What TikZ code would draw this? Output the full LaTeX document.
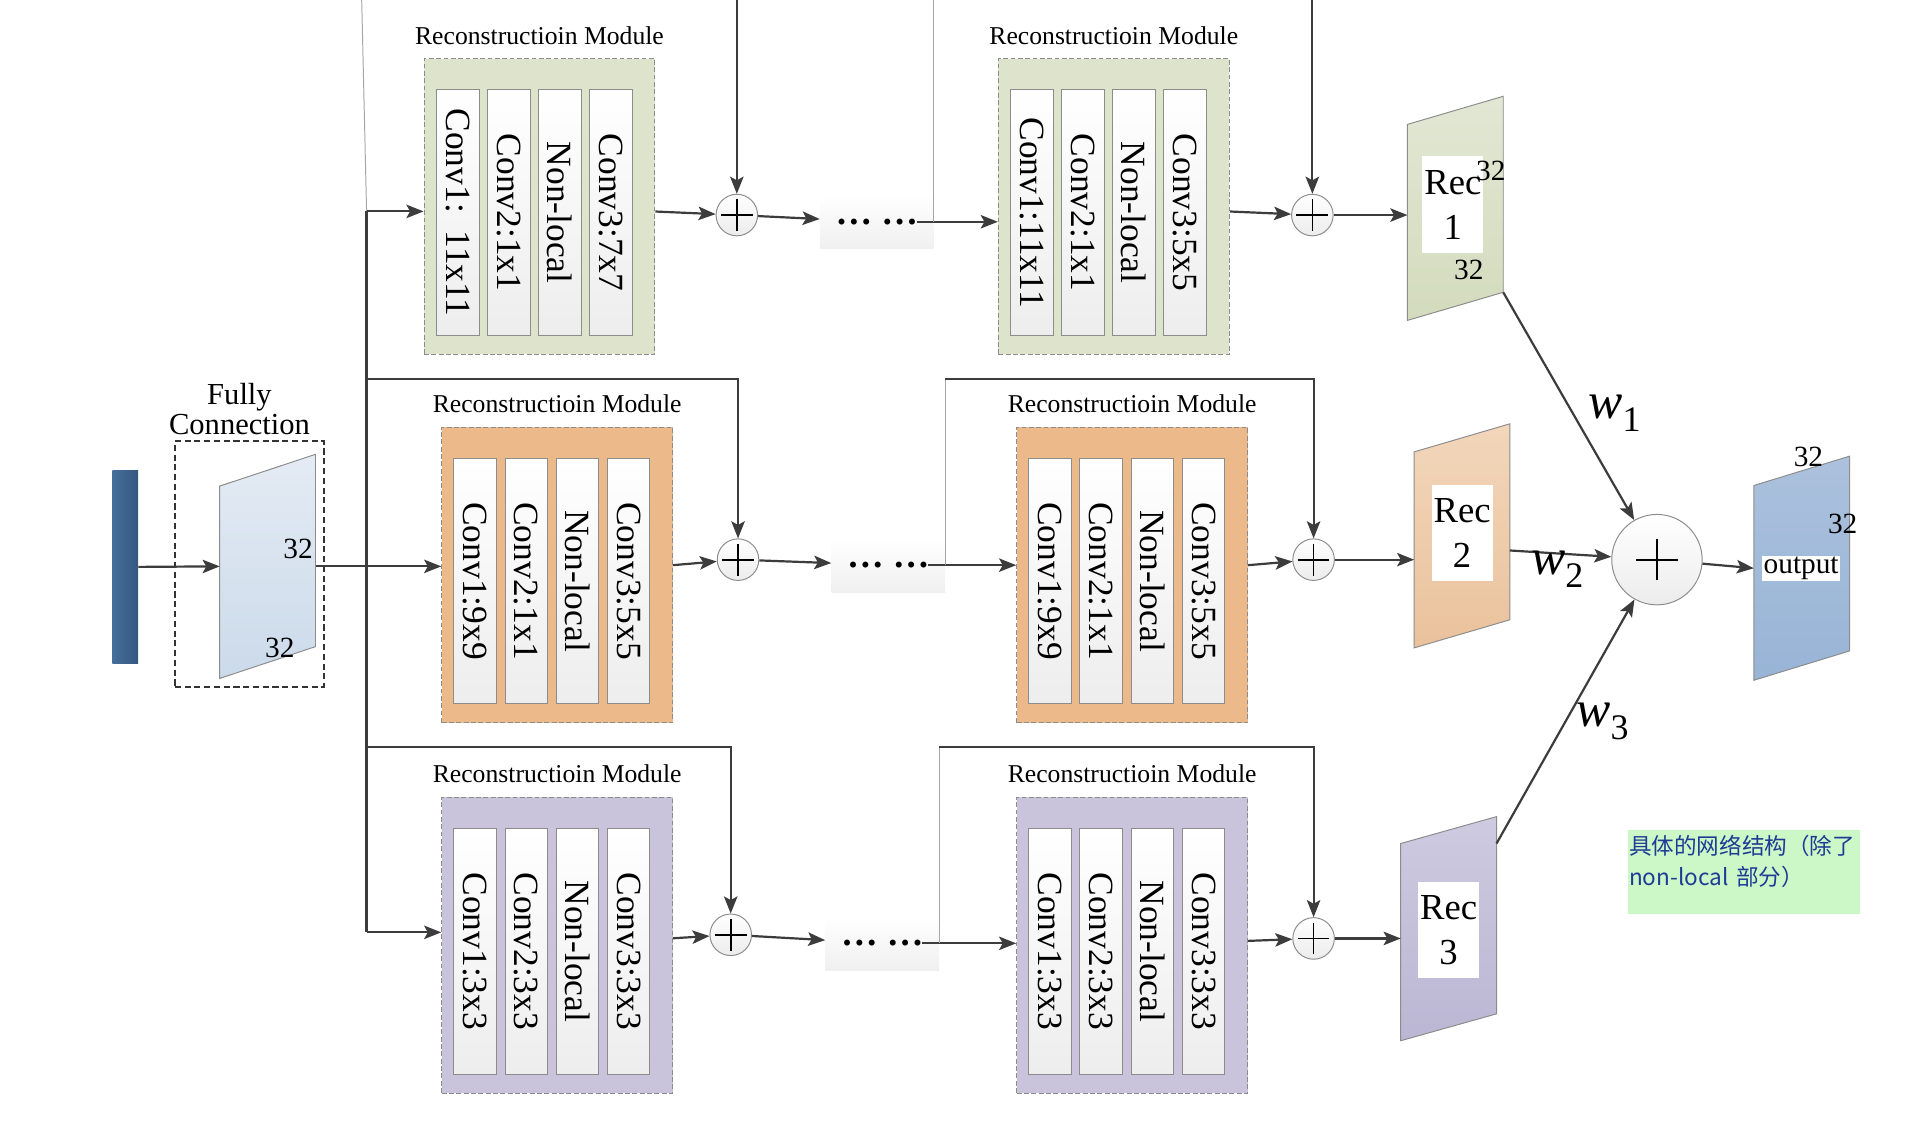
\documentclass[tikz,border=0pt]{standalone}
\usepackage{graphicx}
\usepackage{fontspec}
\setmainfont{Liberation Serif}
\newfontfamily\cjkfont{Noto Sans CJK SC}
\usetikzlibrary{arrows.meta,positioning}

\definecolor{linegray}{HTML}{3C3C3C}
\definecolor{bordergray}{HTML}{8C8C8C}
\definecolor{modgreen}{HTML}{DEE3CB}
\definecolor{modorange}{HTML}{EBB98A}
\definecolor{modpurple}{HTML}{C9C4DC}
\definecolor{notegreen}{HTML}{CCF7C6}
\definecolor{noteblue}{HTML}{1E3C96}
\definecolor{barblue1}{HTML}{466E9B}
\definecolor{barblue2}{HTML}{34587F}
\definecolor{fcblue1}{HTML}{E4EBF4}
\definecolor{fcblue2}{HTML}{CBDAEA}
\definecolor{recgreen1}{HTML}{E2E7D4}
\definecolor{recgreen2}{HTML}{D3DBBD}
\definecolor{recorange1}{HTML}{F2D6BB}
\definecolor{recorange2}{HTML}{EAC29C}
\definecolor{recpurple1}{HTML}{CECAE0}
\definecolor{recpurple2}{HTML}{BBB6D3}
\definecolor{outblue1}{HTML}{ABC1DD}
\definecolor{outblue2}{HTML}{98B4D6}

% vertical text in the conv strips
\newcommand{\vlabel}[1]{\rotatebox{-90}{#1}}
% weight label
\newcommand{\wsub}[1]{\textit{w}\textsubscript{#1}}
% slanted feature map: node, slant, top colour, bottom colour
\newcommand{\drawslab}[4]{%
  \path[draw=bordergray, line width=0.8pt, top color=#3, bottom color=#4]
    (#1.south west) -- ([yshift=-#2]#1.north west) -- (#1.north east)
    -- ([yshift=#2]#1.south east) -- cycle;}

\tikzset{
    %Define standard arrow tip
    >={Stealth[length=14pt,width=11pt,inset=3pt]},
    %Define style for module boxes
    module/.style={
      rectangle,
      draw=bordergray, dash pattern=on 4pt off 2pt, line width=0.8pt,
      minimum width=189pt,
      minimum height=242pt},
    modtitle/.style={
      inner sep=0pt,
      font=\fontsize{21}{21}\selectfont},
    %Define style for conv strips
    strip/.style={
      rectangle,
      draw=bordergray, line width=0.8pt,
      top color=white, bottom color=gray!14,
      minimum width=35pt,
      minimum height=201pt,
      inner sep=0pt,
      font=\fontsize{29}{29}\selectfont},
    sumnode/.style={
      circle,
      draw=bordergray, line width=0.8pt,
      top color=white, bottom color=gray!15,
      minimum size=34pt, inner sep=0pt,
      path picture={
        \draw[black, line width=1.4pt]
          ([xshift=-13pt]path picture bounding box.center) -- ([xshift=13pt]path picture bounding box.center)
          ([yshift=-13pt]path picture bounding box.center) -- ([yshift=13pt]path picture bounding box.center);}},
    bigsum/.style={
      circle,
      draw=bordergray, line width=0.8pt,
      top color=white, bottom color=gray!15,
      minimum size=74pt, inner sep=0pt,
      path picture={
        \draw[black, line width=1.7pt]
          ([xshift=-17pt]path picture bounding box.center) -- ([xshift=17pt]path picture bounding box.center)
          ([yshift=-17pt]path picture bounding box.center) -- ([yshift=17pt]path picture bounding box.center);}},
    dotsbox/.style={
      rectangle,
      top color=white, bottom color=gray!12,
      minimum width=93pt, minimum height=44pt,
      font=\bfseries\fontsize{30}{30}\selectfont},
    slab/.style={
      minimum width=78pt, minimum height=183pt, inner sep=0pt},
    reclabel/.style={
      fill=white, inner sep=0pt, align=center,
      minimum width=50pt, minimum height=79pt,
      font=\fontsize{30}{37}\selectfont},
    dimlabel/.style={
      inner sep=0pt,
      font=\fontsize{24}{24}\selectfont},
    wlab/.style={
      inner sep=0pt,
      font=\fontsize{42}{42}\selectfont},
    inbar/.style={
      rectangle,
      left color=barblue1, right color=barblue2,
      minimum width=21pt, minimum height=158pt},
    fcbox/.style={
      rectangle,
      draw=black!80, dash pattern=on 5pt off 3pt, line width=1.6pt,
      minimum width=122pt, minimum height=201pt},
    fctitle/.style={
      inner sep=0pt, align=center,
      font=\fontsize{25}{25}\selectfont},
    note/.style={
      rectangle, fill=notegreen,
      text=noteblue, align=left,
      text width=188pt, inner xsep=1pt, inner ysep=4pt,
      font=\cjkfont\fontsize{18.5}{26}\selectfont},
    % Define arrow style
    arr/.style={
      ->,
      draw=linegray,
      line width=1.8pt},
    bus/.style={
      draw=linegray,
      line width=1.8pt},
    thinline/.style={
      draw=gray!70,
      line width=0.8pt}
}

\begin{document}
\begin{tikzpicture}[x=1pt, y=-1pt]
    \useasboundingbox (0,0) rectangle (1568,925);

    % input and fully connection
    \node[inbar] (inbar) at (102.5,464) {};
    \node[fcbox] (fcbox) at (204,461.5) {};
    \node[fctitle, above=4pt of fcbox, xshift=-8pt] (fctitle) {Fully\\Connection};
    \node[slab] (fcslab) at (219,463.5) {};
    \drawslab{fcslab}{26pt}{fcblue1}{fcblue2}
    \node[dimlabel] (fc32a) at (244,449) {32};
    \node[dimlabel] (fc32b) at (229,530) {32};

    \coordinate (bustop) at (296,0);
    \coordinate (bus1) at (300,173);
    \coordinate (busA) at (300,310);
    \coordinate (busB) at (300,611);
    \coordinate (bus3) at (300,763);

    % first row
    \node[module, fill=modgreen] (m11) at (441.5,169) {};
    \node[modtitle, above=11pt of m11] (t11) {Reconstructioin Module};
    \node[strip, right=10pt of m11.west, yshift=-5pt] (c11a) {\vlabel{Conv1:~~11x11}};
    \node[strip, right=6pt of c11a] (c11b) {\vlabel{Conv2:1x1}};
    \node[strip, right=6pt of c11b] (c11c) {\vlabel{Non-local}};
    \node[strip, right=6pt of c11c] (c11d) {\vlabel{Conv3:7x7}};
    \node[sumnode] (p11) at (603,176) {};
    \node[dotsbox] (d1) at (717.5,181.5) {… …};
    \node[module, fill=modgreen] (m12) at (911.5,169) {};
    \node[modtitle, above=11pt of m12] (t12) {Reconstructioin Module};
    \node[strip, right=10pt of m12.west, yshift=-5pt] (c12a) {\vlabel{Conv1:11x11}};
    \node[strip, right=6pt of c12a] (c12b) {\vlabel{Conv2:1x1}};
    \node[strip, right=6pt of c12b] (c12c) {\vlabel{Non-local}};
    \node[strip, right=6pt of c12c] (c12d) {\vlabel{Conv3:5x5}};
    \node[sumnode] (p12) at (1074,176) {};

    % second row
    \node[module, fill=modorange] (m21) at (456,470.5) {};
    \node[modtitle, above=11pt of m21] (t21) {Reconstructioin Module};
    \node[strip, right=10pt of m21.west, yshift=-5pt] (c21a) {\vlabel{Conv1:9x9}};
    \node[strip, right=6pt of c21a] (c21b) {\vlabel{Conv2:1x1}};
    \node[strip, right=6pt of c21b] (c21c) {\vlabel{Non-local}};
    \node[strip, right=6pt of c21c] (c21d) {\vlabel{Conv3:5x5}};
    \node[sumnode] (p21) at (604,458) {};
    \node[dotsbox] (d2) at (727,462.5) {… …};
    \node[module, fill=modorange] (m22) at (926.5,470.5) {};
    \node[modtitle, above=11pt of m22] (t22) {Reconstructioin Module};
    \node[strip, right=10pt of m22.west, yshift=-5pt] (c22a) {\vlabel{Conv1:9x9}};
    \node[strip, right=6pt of c22a] (c22b) {\vlabel{Conv2:1x1}};
    \node[strip, right=6pt of c22b] (c22c) {\vlabel{Non-local}};
    \node[strip, right=6pt of c22c] (c22d) {\vlabel{Conv3:5x5}};
    \node[sumnode] (p22) at (1075,458) {};

    % third row
    \node[module, fill=modpurple] (m31) at (456,773.5) {};
    \node[modtitle, above=11pt of m31] (t31) {Reconstructioin Module};
    \node[strip, right=10pt of m31.west, yshift=-5pt] (c31a) {\vlabel{Conv1:3x3}};
    \node[strip, right=6pt of c31a] (c31b) {\vlabel{Conv2:3x3}};
    \node[strip, right=6pt of c31b] (c31c) {\vlabel{Non-local}};
    \node[strip, right=6pt of c31c] (c31d) {\vlabel{Conv3:3x3}};
    \node[sumnode] (p31) at (598,765) {};
    \node[dotsbox] (d3) at (722,772) {… …};
    \node[module, fill=modpurple] (m32) at (926.5,773.5) {};
    \node[modtitle, above=11pt of m32] (t32) {Reconstructioin Module};
    \node[strip, right=10pt of m32.west, yshift=-5pt] (c32a) {\vlabel{Conv1:3x3}};
    \node[strip, right=6pt of c32a] (c32b) {\vlabel{Conv2:3x3}};
    \node[strip, right=6pt of c32b] (c32c) {\vlabel{Non-local}};
    \node[strip, right=6pt of c32c] (c32d) {\vlabel{Conv3:3x3}};
    \node[sumnode] (p32) at (1075,768) {};

    % reconstructions and output
    \node[slab] (rec1) at (1191,170.5) {};
    \drawslab{rec1}{23pt}{recgreen1}{recgreen2}
    \node[reclabel] (rec1lab) at (1189,167.5) {Rec\\1};
    \node[dimlabel] (rec32a) at (1220,140) {32};
    \node[dimlabel] (rec32b) at (1202,221) {32};
    \node[slab] (rec2) at (1196.5,438.5) {};
    \drawslab{rec2}{23pt}{recorange1}{recorange2}
    \node[reclabel] (rec2lab) at (1196.5,436) {Rec\\2};
    \node[slab] (rec3) at (1185.5,760) {};
    \drawslab{rec3}{22pt}{recpurple1}{recpurple2}
    \node[reclabel] (rec3lab) at (1185.5,761) {Rec\\3};
    \node[bigsum] (bigsum) at (1356,458) {};
    \node[slab] (outslab) at (1474.5,465) {};
    \drawslab{outslab}{24pt}{outblue1}{outblue2}
    \node[fill=white, inner sep=1pt, font=\fontsize{24}{24}\selectfont] (outlab) at (1474,465.5) {output};
    \node[dimlabel] (out32a) at (1480,374) {32};
    \node[dimlabel] (out32b) at (1508,429) {32};

    \node[note, anchor=north west] (note) at (1332,679)
      {具体的网络结构（除了\\non-local 部分）\rule[-19pt]{0pt}{19pt}};

    % connections
    \draw[thinline] (bustop) -- (bus1);
    \draw[bus] (bus1) -- (bus3);
    \draw[arr] (inbar) -- (fcslab.west);
    \draw[arr] (fcslab.east) -- (m21.west |- fcslab.east);
    \draw[arr] (bus1) -- (m11.west |- bus1);
    \draw[arr] (bus3) -- (m31.west |- bus3);
    \draw[arr] (busA) -| (p21);
    \draw[arr] (busB) -| (p31);

    \coordinate (top11) at (603,0);
    \coordinate (top12) at (1074,0);
    \draw[arr] (top11) -- (p11);
    \draw[arr] (m11) -- (p11);
    \draw[arr] (p11) -- (d1);
    \draw[arr] ([xshift=-14pt]d1.east) -- (m12.west |- d1.east);
    \draw[thinline] (d1.east) -- (d1.east |- top11);
    \draw[arr] (top12) -- (p12);
    \draw[arr] (m12) -- (p12);
    \draw[arr] (p12) -- (rec1.west |- p12);

    \coordinate (skip2) at (773,310);
    \draw[arr] (m21) -- (p21);
    \draw[arr] (p21) -- (d2);
    \draw[arr] ([xshift=-14pt]d2.east) -- (m22.west |- d2.east);
    \draw[thinline] (d2.east) -- (d2.east |- skip2);
    \draw[arr] (d2.east |- skip2) -| (p22);
    \draw[arr] (m22) -- (p22);
    \draw[arr] (p22) -- (rec2.west |- p22);

    \coordinate (skip3) at (770,611);
    \draw[arr] (m31) -- (p31);
    \draw[arr] (p31) -- (d3);
    \draw[arr] ([xshift=-14pt]d3.east) -- (m32.west |- d3.east);
    \draw[thinline] (d3.east) -- (d3.east |- skip3);
    \draw[arr] (d3.east |- skip3) -| (p32);
    \draw[arr] (m32) -- (p32);
    \draw[arr] (p32) -- (rec3.west |- p32);

    \draw[arr] ([yshift=23pt]rec1.south east) -- (bigsum)
      node[wlab, pos=0.53, right=12pt] (w1) {\wsub{1}};
    \draw[arr] ([yshift=-12pt]rec2.east) -- (bigsum)
      node[wlab, pos=0.47, yshift=-13pt] (w2) {\wsub{2}};
    \draw[arr] ([yshift=-22pt]rec3.north east) -- (bigsum)
      node[wlab, pos=0.5, right=8pt] (w3) {\wsub{3}};
    \draw[arr] (bigsum) -- (outslab.west);
\end{tikzpicture}
\end{document}
